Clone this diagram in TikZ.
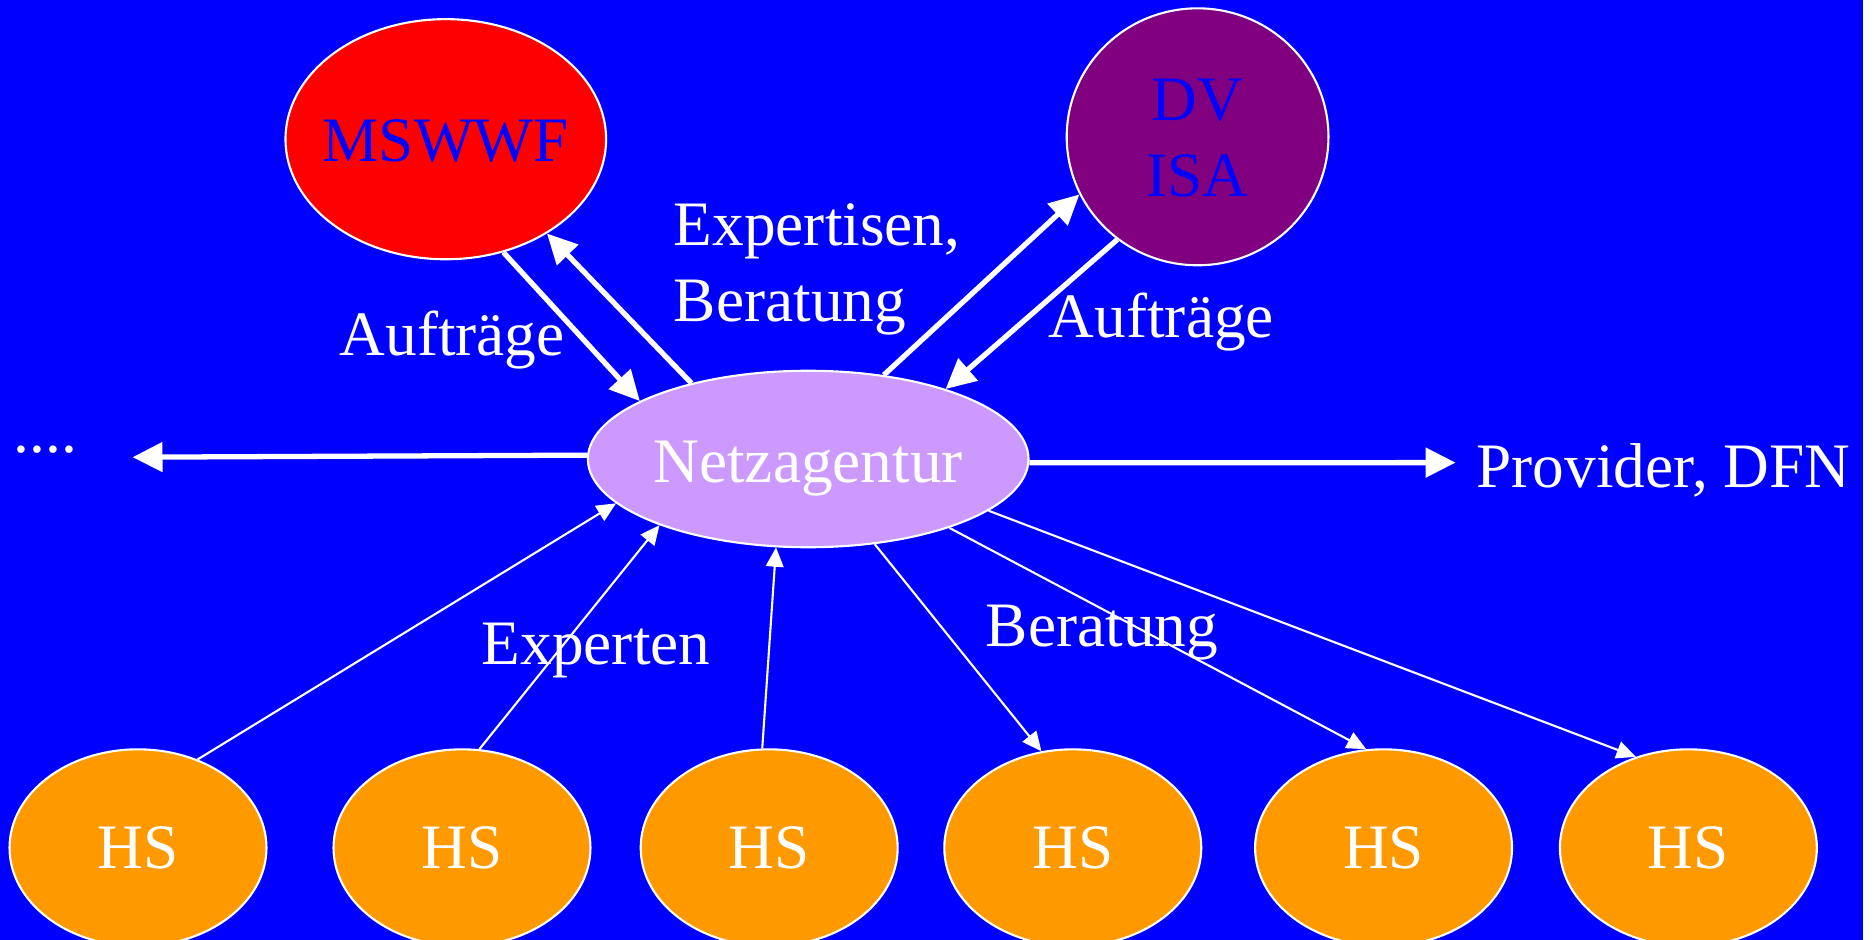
\documentclass[tikz,border=0pt]{standalone}
\usepackage{fontspec}
\setmainfont{Liberation Serif}
\usetikzlibrary{arrows.meta}
\usetikzlibrary{shapes.geometric}

\definecolor{bgblue}{HTML}{0000FF}
\definecolor{mswred}{HTML}{FF0000}
\definecolor{dvpurple}{HTML}{800080}
\definecolor{netzlila}{HTML}{CC99FF}
\definecolor{hsorange}{HTML}{FF9900}

\begin{document}
\begin{tikzpicture}[x=0.012cm,y=-0.012cm,
    font=\fontsize{18pt}{21.6pt}\selectfont,
    blob/.style={ellipse,draw=white,line width=0.6pt,inner sep=0pt},
    txt/.style={text=white,inner sep=0pt,anchor=base west},
    mainline/.style={white,line width=1.5pt,-{Triangle[length=8.5pt,width=8.2pt]}},
    hsline/.style={white,line width=0.6pt,-{Triangle[length=5.5pt,width=5pt]}}]
    \useasboundingbox (0,0) rectangle (1561.7,783.3);
    \fill [white] (0,0) rectangle (1561.7,783.3);
    \fill [bgblue] (0,0) rectangle (1552.3,783.3);
    \node [blob,fill=mswred,minimum width=3.204cm,minimum height=2.4cm,
      label={[text=bgblue,yshift=-0.02cm]center:MSWWF}] (msw) at (371.5,116) {};
    \node [blob,fill=dvpurple,minimum width=2.616cm,minimum height=2.568cm,
      label={[text=bgblue,align=center,yshift=-0.012cm]center:{DV\\ISA}}] (dv) at (998,114) {};
    \node [blob,fill=netzlila,minimum width=4.404cm,minimum height=1.764cm,
      label={[text=white,yshift=-0.1cm]center:Netzagentur}] (netz) at (673.5,382.5) {};
    \node [blob,fill=hsorange,minimum width=2.568cm,minimum height=1.968cm,
      label={[text=white]center:HS}] (hs1) at (115,706.5) {};
    \node [blob,fill=hsorange,minimum width=2.568cm,minimum height=1.968cm,
      label={[text=white]center:HS}] (hs2) at (385,706.5) {};
    \node [blob,fill=hsorange,minimum width=2.568cm,minimum height=1.968cm,
      label={[text=white]center:HS}] (hs3) at (641,706.5) {};
    \node [blob,fill=hsorange,minimum width=2.568cm,minimum height=1.968cm,
      label={[text=white]center:HS}] (hs4) at (894,706.5) {};
    \node [blob,fill=hsorange,minimum width=2.568cm,minimum height=1.968cm,
      label={[text=white]center:HS}] (hs5) at (1153,706.5) {};
    \node [blob,fill=hsorange,minimum width=2.568cm,minimum height=1.968cm,
      label={[text=white]center:HS}] (hs6) at (1407,706.5) {};
    \node [txt] (auftrl) at (282.5,296) {Aufträge};
    \node [txt,align=left] (expber) at (561,268) {Expertisen,\\Beratung};
    \node [txt] (auftrr) at (873.5,281) {Aufträge};
    \node [txt] (prov) at (1230,406) {Provider, DFN};
    \node [txt] (dots) at (11,377) {....};
    \node [txt] (expt) at (401,554) {Experten};
    \node [txt] (berat) at (821,539) {Beratung};
    \coordinate (lft) at (110.5,381);
    \coordinate (rgt) at (1213,385.5);
    \draw [mainline] (msw.-63) -- (netz.161);
    \draw [mainline] (netz.147) -- (msw.-43);
    \draw [mainline] (netz.48) -- (dv.-154);
    \draw [mainline] (dv.-128) -- (netz.27);
    \draw [mainline] (netz.179) -- (lft);
    \draw [mainline] (netz.-1) -- (rgt);
    \draw [hsline] (hs1.56) -- (netz.-167);
    \draw [hsline] (hs2.80) -- (netz.-156);
    \draw [hsline] (hs3.94) -- (netz.-110);
    \draw [hsline] (netz.-52) -- (hs4.108);
    \draw [hsline] (netz.-26) -- (hs5.100);
    \draw [hsline] (netz.-16) -- (hs6.120);
\end{tikzpicture}
\end{document}
